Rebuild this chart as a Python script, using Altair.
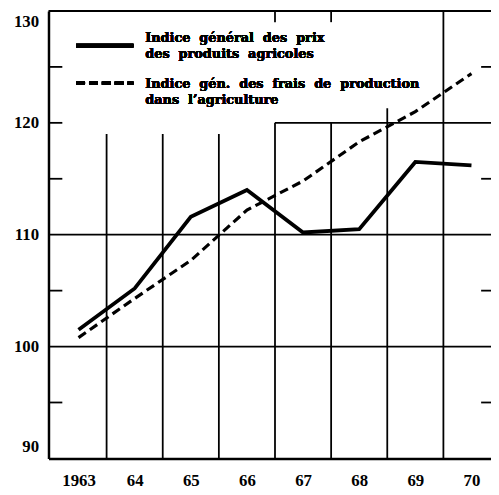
import json
import altair as alt
import pandas as pd

# ---- data ----
years = [1963, 1964, 1965, 1966, 1967, 1968, 1969, 1970]
x_labels = ["1963", "64", "65", "66", "67", "68", "69", "70"]
prix = [101.5, 105.2, 111.6, 114.0, 110.2, 110.5, 116.5, 116.2]
frais = [100.8, 104.3, 107.7, 112.2, 114.8, 118.3, 121.0, 124.4]
legend_prix = ["Indice\u00a0\u00a0général\u00a0\u00a0des\u00a0\u00a0prix", "des\u00a0\u00a0produits\u00a0\u00a0agricoles"]
legend_frais = ["Indice\u00a0\u00a0gén.\u00a0\u00a0des\u00a0\u00a0frais\u00a0\u00a0de\u00a0\u00a0production", "dans\u00a0\u00a0l’agriculture"]
y_ticks = [90, 100, 110, 120, 130]
minor_left = [95, 105, 115, 120, 125]
minor_right = [95, 105, 115, 125]
h_full = [100, 110]
v_x = [1963.5, 1964.5, 1965.5, 1966.5, 1967.5, 1968.5, 1969.5]
v_top = [119, 119, 119, 120, 120, 121.3, 130]

XMIN, XMAX = 1962.465, 1970.348
YMIN, YMAX = 90, 130

df = pd.DataFrame({"year": years, "prix": prix, "frais": frais})
vdf = pd.DataFrame({"x": v_x, "y": [YMIN] * len(v_x), "y2": v_top})
hdf = pd.DataFrame({"y": h_full, "x": [XMIN] * 2, "x2": [XMAX] * 2})
h120 = pd.DataFrame({"y": [120], "x": [1966.5], "x2": [XMAX]})
topdf = pd.DataFrame({"y": [YMAX], "x": [XMIN], "x2": [XMAX]})
topticks = pd.DataFrame({"x": [1966.5, 1967.5], "y": [YMAX, YMAX], "y2": [129, 129]})
mldf = pd.DataFrame({"y": minor_left})
mrdf = pd.DataFrame({"y": minor_right})

xscale = alt.Scale(domain=[XMIN, XMAX], nice=False, zero=False)
yscale = alt.Scale(domain=[YMIN, YMAX], nice=False, zero=False)

lab_font = dict(labelFont="Liberation Serif", labelFontWeight="bold",
                labelFontSize=17, labelColor="black")
xaxis = alt.Axis(values=years, labelExpr=f"{json.dumps(x_labels)}[datum.value - 1963]",
                 ticks=False, grid=False, domainColor="black", domainWidth=2.5,
                 labelPadding=14, title=None, labelAngle=0, **lab_font)
yaxis = alt.Axis(values=y_ticks, ticks=False, grid=False, domainColor="black",
                 domainWidth=2.5, labelPadding=10, labelFlush=True,
                 labelFlushOffset=-3, title=None, **lab_font)

X = lambda f: alt.X(f, type="quantitative", scale=xscale, axis=xaxis)
Y = lambda f: alt.Y(f, type="quantitative", scale=yscale, axis=yaxis)

grid_v = alt.Chart(vdf).mark_rule(color="black", strokeWidth=1.8).encode(
    x=X("x"), y=Y("y"), y2="y2")
grid_h = alt.Chart(hdf).mark_rule(color="black", strokeWidth=1.8).encode(
    y=Y("y"), x=X("x"), x2="x2")
grid_120 = alt.Chart(h120).mark_rule(color="black", strokeWidth=1.8).encode(
    y=Y("y"), x=X("x"), x2="x2")
top = alt.Chart(topdf).mark_rule(color="black", strokeWidth=2.2).encode(
    y=Y("y"), x=X("x"), x2="x2")
tt = alt.Chart(topticks).mark_rule(color="black", strokeWidth=1.8).encode(
    x=X("x"), y=Y("y"), y2="y2")
ml = alt.Chart(mldf).mark_rule(color="black", strokeWidth=1.8).encode(
    y=Y("y"), x=alt.value(0), x2=alt.value(14))
mr = alt.Chart(mrdf).mark_rule(color="black", strokeWidth=1.8).encode(
    y=Y("y"), x=alt.value(438), x2=alt.value(448))

line_prix = alt.Chart(df).mark_line(color="black", strokeWidth=3.8).encode(
    x=X("year"), y=Y("prix"))
line_frais = alt.Chart(df).mark_line(color="black", strokeWidth=3.2, strokeDash=[9, 5]).encode(
    x=X("year"), y=Y("frais"))

leg_solid = alt.Chart(df).mark_rule(color="black", strokeWidth=3.8).encode(
    x=alt.value(28), x2=alt.value(86), y=alt.value(35))
leg_dash = alt.Chart(df).mark_rule(color="black", strokeWidth=3.2, strokeDash=[9, 4]).encode(
    x=alt.value(28), x2=alt.value(86), y=alt.value(73))

txt_kw = dict(align="left", baseline="middle", font="DejaVu Serif",
              fontWeight="bold", fontSize=13, color="black")
texts = []
for t, yy in zip(legend_prix + legend_frais, [27, 44, 74, 90]):
    texts.append(alt.Chart(df).mark_text(**txt_kw).encode(
        x=alt.value(98), y=alt.value(yy), text=alt.value(t)))

chart = alt.layer(grid_v, grid_h, grid_120, top, tt, ml, mr,
                  line_frais, line_prix, leg_solid, leg_dash, *texts).properties(
    width=448, height=453,
    autosize=alt.AutoSizeParams(type="none"),
    padding={"left": 41, "top": 0, "right": 0, "bottom": 33},
    background="white",
).configure_view(stroke=None)

chart.save("out.html", embed_options={"renderer": "svg", "actions": False})
